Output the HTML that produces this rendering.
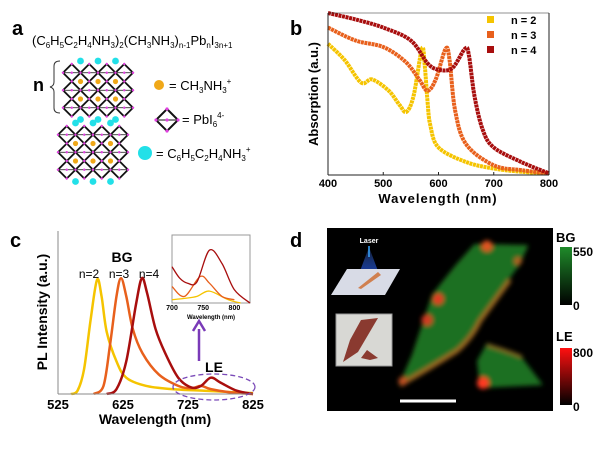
<!DOCTYPE html>
<html><head><meta charset="utf-8"><style>
body{margin:0;background:#fff;}
svg{display:block;font-family:"Liberation Sans",Arial,sans-serif;}
</style></head><body>
<svg id="fig" width="600" height="452" viewBox="0 0 600 452">
<defs>
<filter id="blur3"><feGaussianBlur stdDeviation="2.5"/></filter>
<linearGradient id="gbg" x1="0" y1="1" x2="0" y2="0"><stop offset="0" stop-color="#000"/><stop offset="1" stop-color="#1f8a2a"/></linearGradient>
<linearGradient id="gle" x1="0" y1="1" x2="0" y2="0"><stop offset="0" stop-color="#000"/><stop offset="1" stop-color="#ff1010"/></linearGradient>
<linearGradient id="beam" x1="0" y1="0" x2="0" y2="1"><stop offset="0" stop-color="#3a6ed8" stop-opacity="0.2"/><stop offset="1" stop-color="#1a3fa8" stop-opacity="0.9"/></linearGradient>
</defs>

<!-- Panel a -->
<g>
<text x="12" y="35" font-size="20" font-weight="bold">a</text>
<text x="32" y="45" font-size="13">(C<tspan font-size="8" dy="3">6</tspan><tspan dy="-3">H</tspan><tspan font-size="8" dy="3">5</tspan><tspan dy="-3">C</tspan><tspan font-size="8" dy="3">2</tspan><tspan dy="-3">H</tspan><tspan font-size="8" dy="3">4</tspan><tspan dy="-3">NH</tspan><tspan font-size="8" dy="3">3</tspan><tspan dy="-3">)</tspan><tspan font-size="8" dy="3">2</tspan><tspan dy="-3">(CH</tspan><tspan font-size="8" dy="3">3</tspan><tspan dy="-3">NH</tspan><tspan font-size="8" dy="3">3</tspan><tspan dy="-3">)</tspan><tspan font-size="8" dy="3">n-1</tspan><tspan dy="-3">Pb</tspan><tspan font-size="8" dy="3">n</tspan><tspan dy="-3">I</tspan><tspan font-size="8" dy="3">3n+1</tspan></text>
<text x="33" y="91" font-size="18" font-weight="bold">n</text>
<path d="M60,61 Q54,61 54,66 L54,82 Q54,86 50,87 Q54,88 54,92 L54,108 Q54,113 60,113" fill="none" stroke="#333" stroke-width="1"/>
<g id="crystal"></g>
<circle cx="159" cy="85" r="5" fill="#f0a818"/>
<text x="169" y="90" font-size="13">= CH<tspan font-size="8" dy="3">3</tspan><tspan dy="-3">NH</tspan><tspan font-size="8" dy="3">3</tspan><tspan font-size="8" dy="-9">+</tspan></text>
<g>
<path d="M167,109 L178,120 L167,131 L156,120 Z" fill="none" stroke="#111" stroke-width="2"/>
<line x1="156" y1="120" x2="178" y2="120" stroke="#111" stroke-width="1"/>
<circle cx="156" cy="120" r="1.6" fill="#e040e0"/><circle cx="178" cy="120" r="1.6" fill="#e040e0"/><circle cx="167" cy="109" r="1.6" fill="#e040e0"/><circle cx="167" cy="131" r="1.6" fill="#e040e0"/><circle cx="167" cy="120" r="1.6" fill="#e040e0"/>
</g>
<text x="182" y="124" font-size="13">= PbI<tspan font-size="8" dy="3">6</tspan><tspan font-size="8" dy="-9">4-</tspan></text>
<circle cx="145" cy="153" r="7" fill="#22e0e8"/>
<text x="156" y="158" font-size="13">= C<tspan font-size="8" dy="3">6</tspan><tspan dy="-3">H</tspan><tspan font-size="8" dy="3">5</tspan><tspan dy="-3">C</tspan><tspan font-size="8" dy="3">2</tspan><tspan dy="-3">H</tspan><tspan font-size="8" dy="3">4</tspan><tspan dy="-3">NH</tspan><tspan font-size="8" dy="3">3</tspan><tspan font-size="8" dy="-9">+</tspan></text>
</g>

<!-- Panel b -->
<g>
<text x="290" y="35" font-size="20" font-weight="bold">b</text>
<g id="bplot"></g>
<line x1="328" y1="13" x2="328" y2="175" stroke="#222" stroke-width="1"/>
<line x1="328" y1="175" x2="549" y2="175" stroke="#222" stroke-width="1"/>
<line x1="549" y1="13" x2="549" y2="175" stroke="#222" stroke-width="1"/>
<line x1="328" y1="13" x2="549" y2="13" stroke="#222" stroke-width="0.6"/>
<text x="438" y="203" font-size="13" font-weight="bold" text-anchor="middle" letter-spacing="1">Wavelength (nm)</text>
<text transform="translate(318,94) rotate(-90)" font-size="13" font-weight="bold" text-anchor="middle">Absorption (a.u.)</text>
</g>

<!-- Panel c -->
<g>
<text x="10" y="247" font-size="20" font-weight="bold">c</text>
<g id="cplot"></g>
<line x1="58" y1="231" x2="58" y2="394" stroke="#888" stroke-width="1"/>
<line x1="58" y1="394" x2="253" y2="394" stroke="#888" stroke-width="1"/>
<text x="155" y="424" font-size="14" font-weight="bold" text-anchor="middle">Wavelength (nm)</text>
<text transform="translate(47,312) rotate(-90)" font-size="14" font-weight="bold" text-anchor="middle">PL Intensity (a.u.)</text>
<text x="122" y="262" font-size="14" font-weight="bold" text-anchor="middle">BG</text>
<text x="89" y="278" font-size="12" text-anchor="middle">n=2</text>
<text x="119" y="278" font-size="12" text-anchor="middle">n=3</text>
<text x="149" y="278" font-size="12" text-anchor="middle">n=4</text>
<ellipse cx="214" cy="387" rx="41" ry="13" fill="none" stroke="#7a4ab8" stroke-width="1.3" stroke-dasharray="5,3"/>
<text x="214" y="372" font-size="14" font-weight="bold" text-anchor="middle">LE</text>
<line x1="199" y1="361" x2="199" y2="329" stroke="#7a3ab8" stroke-width="2.5"/>
<path d="M193,331 L199,321 L205,331" fill="none" stroke="#7a3ab8" stroke-width="2.5"/>
<rect x="172" y="235" width="78" height="68" fill="#fff" stroke="#999" stroke-width="1"/>
<g id="inset"></g>
<text x="211" y="319" font-size="6" font-weight="bold" text-anchor="middle">Wavelength (nm)</text>
</g>

<!-- Panel d -->
<g>
<text x="290" y="247" font-size="20" font-weight="bold">d</text>
<rect x="327" y="228" width="226" height="183" fill="#000"/>
<g filter="url(#blur3)">
<path d="M475,245 L527,246 L517,268 L480,321 L457,351 L400,385 L413,355 L433,295 L457,265 Z" fill="#1d7020"/>
<path d="M487,343 L520,355 L543,385 L480,388 L477,361 Z" fill="#1d7020"/>
<path d="M400,385 L413,355 L433,295 L457,265 L475,245 L527,246 L517,268" fill="none" stroke="#2a8a2a" stroke-width="2" opacity="0.7"/>
<path d="M400,385 Q430,368 457,351 Q472,338 480,321 L510,280" fill="none" stroke="#a46a22" stroke-width="4"/>
<path d="M487,345 Q505,350 522,357" fill="none" stroke="#8a6a22" stroke-width="3"/>
<circle cx="487" cy="246" r="5.5" fill="#e05520"/>
<circle cx="518" cy="261" r="4" fill="#b06020"/>
<circle cx="438" cy="299" r="5.5" fill="#e03a20"/>
<circle cx="427" cy="320" r="5.5" fill="#d03a20"/>
<circle cx="483" cy="383" r="6" fill="#ff3a20"/>
<circle cx="403" cy="381" r="4.5" fill="#c05020"/>
</g>
<line x1="400" y1="401" x2="456" y2="401" stroke="#fff" stroke-width="3"/>
<g>
<text x="369" y="243" font-size="7" font-weight="bold" fill="#fff" text-anchor="middle">Laser</text>
<path d="M369,247 L360,271 L378,271 Z" fill="url(#beam)"/>
<line x1="369" y1="246" x2="369" y2="257" stroke="#39a6ff" stroke-width="1.5"/>
<path d="M347,269 L400,269 L385,295 L331,295 Z" fill="#d8dbe6"/>
<path d="M358,288 L378,272 L381,275 L361,289 Z" fill="#d08050"/>
</g>
<g>
<rect x="336" y="314" width="56" height="52" fill="#d8d8d4" stroke="#999"/>
<path d="M361,320 L378,318 L358,352 L343,362 L350,340 Z" fill="#8a3a30"/>
<path d="M367,350 L378,358 L370,360 L361,358 Z" fill="#8a3a30"/>
</g>
<text x="556" y="242" font-size="13" font-weight="bold">BG</text>
<rect x="560" y="247" width="12" height="58" fill="url(#gbg)"/>
<text x="573" y="256" font-size="12" font-weight="bold">550</text>
<text x="573" y="310" font-size="12" font-weight="bold">0</text>
<text x="556" y="341" font-size="13" font-weight="bold">LE</text>
<rect x="560" y="348" width="12" height="57" fill="url(#gle)"/>
<text x="573" y="357" font-size="12" font-weight="bold">800</text>
<text x="573" y="411" font-size="12" font-weight="bold">0</text>
</g>
</svg>
<script>
// ---- Panel b data ----
const bTicks = [400, 500, 600, 700, 800];
const bSeriesNames = ["n = 2", "n = 3", "n = 4"];
const bColors = ["#f5c400", "#e8601c", "#a80e0e"];
const bWl2 = [400,430,460,480,510,530,542,555,570,575,580,585,600,650,700,750,800];
const bAbs2 = [0.81,0.71,0.57,0.59,0.52,0.43,0.39,0.49,0.78,0.68,0.46,0.31,0.17,0.08,0.04,0.02,0.01];
const bWl3 = [400,450,500,540,565,580,595,613,620,630,650,700,750,800];
const bAbs3 = [0.91,0.83,0.79,0.70,0.59,0.52,0.59,0.78,0.71,0.40,0.19,0.06,0.03,0.01];
const bWl4 = [400,450,500,550,580,600,625,648,655,665,680,700,750,800];
const bAbs4 = [1.0,0.96,0.91,0.83,0.69,0.65,0.66,0.78,0.74,0.49,0.28,0.17,0.08,0.01];

// ---- Panel c data ----
const cTicks = [525, 625, 725, 825];
const cWl2 = [545,555,565,575,585,592,600,615,630,660,700,750,800,825];
const cPL2 = [0,0.02,0.15,0.45,0.70,0.60,0.38,0.20,0.10,0.05,0.03,0.02,0.01,0.005];
const cWl3 = [580,595,605,615,622,630,640,655,680,710,730,745,760,790,825];
const cPL3 = [0,0.05,0.30,0.60,0.71,0.60,0.40,0.25,0.12,0.05,0.035,0.05,0.03,0.01,0];
const cWl4 = [600,615,630,645,654,662,675,690,710,730,745,760,775,800,825];
const cPL4 = [0,0.03,0.20,0.55,0.71,0.62,0.40,0.25,0.10,0.04,0.05,0.10,0.07,0.02,0];
const insetTicks = [700, 750, 800];
const iWl2 = [700,720,740,760,790,810];
const iPL2 = [0.05,0.07,0.10,0.18,0.05,0];
const iWl3 = [700,720,745,760,780,800];
const iPL3 = [0.25,0.10,0.40,0.30,0.10,0.05];
const iWl4 = [700,712,725,740,760,780,800,825];
const iPL4 = [0.55,0.38,0.30,0.32,0.80,0.60,0.20,0];

const NS = "http://www.w3.org/2000/svg";
function mk(tag, attrs, parent){const e=document.createElementNS(NS,tag);for(const k in attrs)e.setAttribute(k,attrs[k]);parent.appendChild(e);return e;}
function smooth(pts){let d="M"+pts[0][0]+","+pts[0][1];for(let i=1;i<pts.length;i++){const p0=pts[Math.max(i-2,0)],p1=pts[i-1],p2=pts[i],p3=pts[Math.min(i+1,pts.length-1)];const c1x=p1[0]+(p2[0]-p0[0])/6,c1y=p1[1]+(p2[1]-p0[1])/6,c2x=p2[0]-(p3[0]-p1[0])/6,c2y=p2[1]-(p3[1]-p1[1])/6;d+=` C${c1x},${c1y} ${c2x},${c2y} ${p2[0]},${p2[1]}`;}return d;}

// Panel b
const bx = v => 328 + (v-400)/400*221;
const by = v => 175 - v*162;
const bp = document.getElementById('bplot');
[[bWl2,bAbs2],[bWl3,bAbs3],[bWl4,bAbs4]].forEach((s,i)=>{
  const p = mk('path',{d:smooth(s[0].map((w,j)=>[bx(w),by(s[1][j])])),fill:'none',stroke:bColors[i],'stroke-width':4,'stroke-dasharray':'3,0.6'},bp);
  
  
  const sq = mk('rect',{x:487,y:16+i*15,width:7,height:7,fill:bColors[i]},bp);
  
  
  const t = mk('text',{x:511,y:24+i*15,'font-size':11,'font-weight':'bold','xml:space':'preserve'},bp);
  t.textContent = bSeriesNames[i];
  
  
});
bTicks.forEach(t=>{
  const l = mk('line',{x1:bx(t),x2:bx(t),y1:175,y2:172,stroke:'#222'},bp);
  
  
  const tx = mk('text',{x:bx(t),y:187,'font-size':11,'font-weight':'bold','text-anchor':'middle'},bp);
  tx.textContent = t;
  
  
});

// Panel c
const cx = v => 58 + (v-525)/300*195;
const cy = v => 394 - v*163;
const cp = document.getElementById('cplot');
[[cWl2,cPL2],[cWl3,cPL3],[cWl4,cPL4]].forEach((s,i)=>{
  const p = mk('path',{d:smooth(s[0].map((w,j)=>[cx(w),cy(s[1][j])])),fill:'none',stroke:bColors[i],'stroke-width':2.5},cp);
  
  
});
cTicks.forEach(t=>{
  const tx = mk('text',{x:cx(t),y:409,'font-size':13,'font-weight':'bold','text-anchor':'middle'},cp);
  tx.textContent = t;
  
  
});
const ix = v => 172 + (v-700)/125*78;
const iy = v => 303 - v*66;
const ip = document.getElementById('inset');
[[iWl2,iPL2],[iWl3,iPL3],[iWl4,iPL4]].forEach((s,i)=>{
  const p = mk('path',{d:smooth(s[0].map((w,j)=>[ix(w),iy(s[1][j])])),fill:'none',stroke:bColors[i],'stroke-width':1.3},ip);
  
  
});
insetTicks.forEach(t=>{
  const tx = mk('text',{x:ix(t),y:310,'font-size':7,'font-weight':'bold','text-anchor':'middle'},ip);
  tx.textContent = t;
  
  
});

// Panel a crystal
const cr = document.getElementById('crystal');
function block(x0,y0,cols,rows,s){
  for(let r=0;r<rows;r++)for(let c=0;c<cols;c++){
    const x=x0+c*s+s/2,y=y0+r*s+s/2,h=s/2;
    mk('path',{d:`M${x},${y-h} L${x+h},${y} L${x},${y+h} L${x-h},${y} Z`,fill:'none',stroke:'#111','stroke-width':1.8},cr);
    mk('line',{x1:x-h,y1:y,x2:x+h,y2:y,stroke:'#111','stroke-width':0.8},cr);
    [[x,y-h],[x+h,y],[x,y+h],[x-h,y],[x,y]].forEach(p=>mk('circle',{cx:p[0],cy:p[1],r:1.2,fill:'#e040e0'},cr));
  }
  for(let r=1;r<rows;r++)for(let c=1;c<cols;c++) mk('circle',{cx:x0+c*s,cy:y0+r*s,r:2.6,fill:'#f0a818'},cr);
  for(let c=1;c<cols;c++){mk('circle',{cx:x0+c*s,cy:y0-3,r:3.4,fill:'#22e0e8'},cr);mk('circle',{cx:x0+c*s,cy:y0+rows*s+3,r:3.4,fill:'#22e0e8'},cr);}
}
block(63,64,4,3,17.5);
block(58,126,4,3,17.5);
</script>
</body></html>
